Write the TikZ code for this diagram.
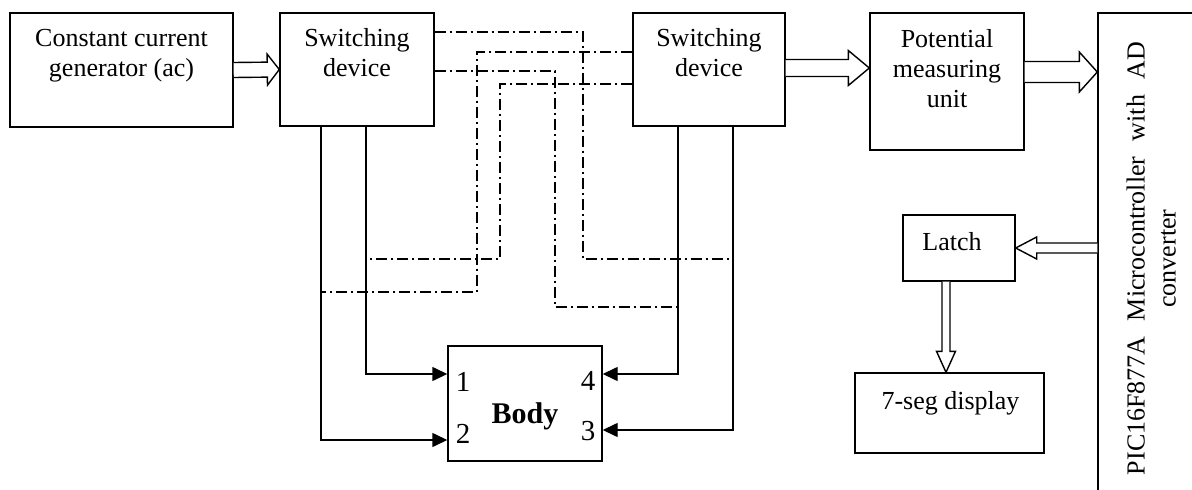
\documentclass[tikz,border=0pt]{standalone}
\usepackage{fontspec}
\setmainfont{Liberation Serif}
\usetikzlibrary{calc,arrows.meta}
\tikzset{
  box/.style={draw, line width=1.4pt, inner sep=0pt, rectangle},
  txt/.style={align=center, inner sep=0pt, font=\fontsize{26}{30}\selectfont},
  num/.style={inner sep=0pt, anchor=base, font=\fontsize{29}{34}\selectfont},
  conn/.style={line width=1.4pt, -{Triangle[length=15pt,width=14pt]}},
  dd/.style={line width=1.3pt, dash pattern=on 11pt off 4pt on 2pt off 4pt},
  blk/.style={line width=1.4pt, fill=white, line join=miter},
}
\newcommand\blkarrow[5]{%
  \coordinate (bah) at ($(#2)!#5!(#1)$);
  \draw[blk] ($(#1)!#3!90:(#2)$) -- ($(bah)!#3!90:(#2)$) -- ($(bah)!#4!90:(#2)$) -- (#2)
    -- ($(bah)!#4!-90:(#2)$) -- ($(bah)!#3!-90:(#2)$) -- ($(#1)!#3!-90:(#2)$);
}
\begin{document}
\begin{tikzpicture}[x=1pt,y=-1pt]
\useasboundingbox (0,0) rectangle (1192,490);
\fill[white] (0,0) rectangle (1192,490);
% boxes
\node[box, minimum width=223pt, minimum height=114pt] (ccg) at (121.5,70) {};
\node[box, minimum width=154pt, minimum height=113pt] (sw1) at (357,69.5) {};
\node[box, minimum width=152pt, minimum height=113pt] (sw2) at (709,69.5) {};
\node[box, minimum width=154pt, minimum height=137pt] (pmu) at (947,81.5) {};
\node[box, minimum width=112pt, minimum height=66pt] (latch) at (959,248) {};
\node[box, minimum width=189pt, minimum height=80pt] (seg) at (949.5,413) {};
\node[box, minimum width=154pt, minimum height=115pt] (body) at (525,403.5) {};
\node[box, minimum width=162pt, minimum height=507pt] (pic) at (1179,266.5) {};
% texts
\node[txt] (ccgt) at (121.5,55) {\strut Constant current\\\strut generator (ac)};
\node[txt] (sw1t) at (357,55) {\strut Switching\\\strut device};
\node[txt] (sw2t) at (709,55) {\strut Switching\\\strut device};
\node[txt] (pmut) at (947,71) {\strut Potential\\\strut measuring\\\strut unit};
\node[txt, anchor=base] (latcht) at (952,250) {Latch};
\node[txt, anchor=base] (segt) at (950.5,409) {7-seg display};
\node[txt, anchor=base, font=\fontsize{30}{36}\selectfont\bfseries] (bodyt) at (525,423) {Body};
\node[num] (n1) at (463,391.5) {1};
\node[num] (n2) at (463,443) {2};
\node[num] (n4) at (588,390) {4};
\node[num] (n3) at (588,440) {3};
\node[txt, rotate=90, font=\fontsize{26}{31}\selectfont] (pict) at (1154,258.5)
  {\strut\makebox[433pt][s]{PIC16F877A Microcontroller with AD}\\\strut converter};
% solid connectors to body
\draw[conn] ([xshift=9pt]sw1.south) |- ([yshift=29.5pt]body.west);
\draw[conn] ([xshift=-36pt]sw1.south) |- ([yshift=-36.5pt]body.west);
\draw[conn] ([xshift=-31pt]sw2.south) |- ([yshift=29.5pt]body.east);
\draw[conn] ([xshift=24pt]sw2.south) |- ([yshift=-26.5pt]body.east);
% dash-dot lines
\coordinate (d1) at (477,292);
\coordinate (d2) at (500,259);
\coordinate (d3) at (555,307);
\coordinate (d4) at (583,259);
\draw[dd] ([yshift=17.5pt]sw2.west) -| (d1) -- ([xshift=-36pt]sw1.south |- d1);
\draw[dd] ([yshift=-14.5pt]sw2.west) -| (d2) -- ([xshift=9pt]sw1.south |- d2);
\draw[dd] ([yshift=-1.5pt]sw1.east) -| (d3) -- ([xshift=-31pt]sw2.south |- d3);
\draw[dd] ([yshift=37.5pt]sw1.east) -| (d4) -- ([xshift=24pt]sw2.south |- d4);
% block arrows
\blkarrow{ccg.east}{sw1.west}{7.5pt}{15.5pt}{12pt}
\coordinate (a2s) at ([yshift=1.5pt]sw2.east);
\coordinate (a2e) at (a2s -| pmu.west);
\blkarrow{a2s}{a2e}{8.5pt}{17.5pt}{21pt}
\coordinate (a3s) at ([yshift=9.5pt]pmu.east);
\coordinate (a3e) at (a3s -| pic.west);
\blkarrow{a3s}{a3e}{10.5pt}{20pt}{18pt}
\coordinate (a4s) at (latch.east -| pic.west);
\blkarrow{a4s}{latch.east}{5pt}{11pt}{21pt}
\coordinate (a5s) at ([xshift=-13pt]latch.south);
\coordinate (a5e) at (a5s |- seg.north);
\blkarrow{a5s}{a5e}{4pt}{9.5pt}{21pt}
\end{tikzpicture}
\end{document}
